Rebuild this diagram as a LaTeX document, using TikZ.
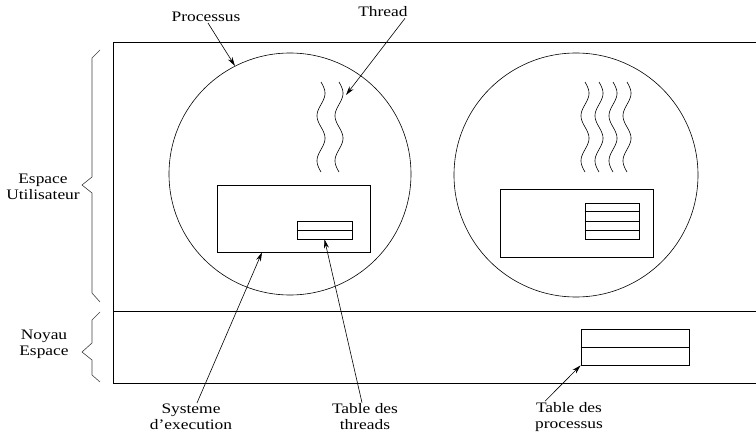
\documentclass[tikz,border=0pt]{standalone}
\usepackage{fontspec}
\setmainfont{Liberation Serif}[FakeStretch=1.2]
\usetikzlibrary{calc,arrows.meta}
\begin{document}
\begin{tikzpicture}[x=1pt,y=-1pt,
  lbl/.style={align=center,inner sep=1pt,font=\fontsize{14.5}{16}\selectfont},
  frame/.style={line width=0.8pt},
  proc/.style={circle,draw,line width=0.6pt,inner sep=0pt,minimum size=#1},
  boxx/.style={draw,line width=0.7pt,inner sep=0pt},
  thr/.style={line width=0.6pt},
  brc/.style={line width=0.6pt,draw=black!75},
  arr/.style={line width=0.6pt,-{Stealth[length=9pt,width=5pt]}}]
\useasboundingbox (0,0) rectangle (756,436);

% user / kernel frame (open on the right)
\draw[frame] (756,42) -- (113,42) -- (113,383) -- (756,383);
\draw[frame] (113,311) -- (756,311);

% processes
\node[proc=242pt] (p1) at (290,174) {};
\node[proc=244pt] (p2) at (576,175) {};

% run-time systems
\node[boxx,minimum width=153pt,minimum height=67pt] (b1) at (293.5,218.5) {};
\node[boxx,minimum width=153pt,minimum height=68pt] (b2) at (576.5,223) {};

% thread tables
\node[boxx,minimum width=55pt,minimum height=18pt] (t1) at (324.5,230) {};
\draw[line width=0.7pt] (t1.west) -- (t1.east);
\node[boxx,minimum width=54pt,minimum height=36pt] (t2) at (612,221) {};
\foreach \f in {0.25,0.5,0.75}
  \draw[line width=0.7pt] ($(t2.north west)!\f!(t2.south west)$) -- ($(t2.north east)!\f!(t2.south east)$);

% process table
\node[boxx,minimum width=108pt,minimum height=36pt] (pt) at (635,347) {};
\draw[line width=0.7pt] (pt.west) -- (pt.east);

% threads
\foreach \xc in {321,339}
  \draw[thr] plot[variable=\t,domain=0:90,samples=61,smooth] ({\xc+4*sin(8*\t)},{82+\t});
\foreach \xc in {585,599,613,627}
  \draw[thr] plot[variable=\t,domain=0:90,samples=61,smooth] ({\xc+4*sin(8*\t)},{82+\t});

% braces
\draw[brc] (100,50) -- (92,58) -- (92,177) -- (82,185) -- (92,193) -- (92,293) -- (100,302);
\draw[brc] (100,312) -- (92,320) -- (92,343) -- (82,352) -- (92,360) -- (92,375) -- (100,382);

% labels
\node[lbl] (lproc) at (206,17) {Processus};
\node[lbl] (lthr) at (383,12) {Thread};
\node[lbl] (luser) at (43,187) {Espace\\Utilisateur};
\node[lbl] (lkern) at (44,344) {Noyau\\Espace};
\node[lbl] (lsys) at (191,417) {Systeme\\d'execution};
\node[lbl] (ltt) at (365,417) {Table des\\threads};
\node[lbl] (ltp) at (569,417) {Table des\\processus};

% pointers
\coordinate (thrtip) at (346,95);
\draw[arr] ([xshift=2pt]lproc.south) -- (p1.117);
\draw[arr] ([xshift=22pt]lthr.south) -- (thrtip);
\draw[arr] ([xshift=6pt]lsys.north) -- ($(b1.south west)!0.295!(b1.south east)$);
\draw[arr] ([xshift=-3pt]ltt.north) -- (t1.south);
\draw[arr] ([xshift=-24pt]ltp.north) -- (pt.south west);
\end{tikzpicture}
\end{document}
